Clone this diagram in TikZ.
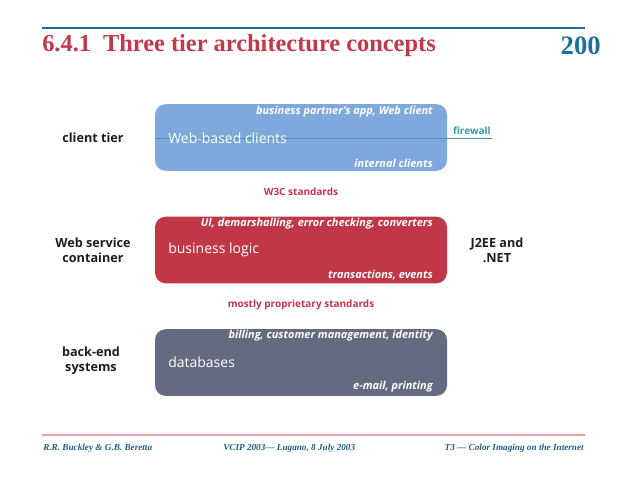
\documentclass[tikz,border=0pt]{standalone}
\usepackage{fontspec}
\setmainfont{Liberation Serif}
\setsansfont{Open Sans}
\usepackage{tikz}

\definecolor{tierblue}{RGB}{127,169,220}
\definecolor{tierred}{RGB}{192,56,72}
\definecolor{tiergray}{RGB}{100,106,128}
\definecolor{titlered}{RGB}{192,57,74}
\definecolor{pageblue}{RGB}{31,110,151}
\definecolor{footblue}{RGB}{31,95,138}
\definecolor{rulepink}{RGB}{230,160,168}
\definecolor{walltea}{RGB}{58,154,174}
\definecolor{labelink}{RGB}{30,30,30}

\tikzset{
  tierbox/.style={rounded corners=8pt, minimum width=219pt, minimum height=50pt, inner sep=0pt},
  tiername/.style={font=\sffamily\bfseries\fontsize{9.5}{11}\selectfont, color=labelink, align=center, inner sep=0.75pt},
  boxname/.style={font=\sffamily\fontsize{10.5}{12}\selectfont, color=white, anchor=west, inner sep=0.75pt},
  boxnote/.style={font=\sffamily\bfseries\itshape\fontsize{8.2}{9}\selectfont, color=white, anchor=east, inner sep=0.75pt},
  stdnote/.style={font=\sffamily\bfseries\fontsize{7.5}{9}\selectfont, color=tierred, inner sep=0.75pt},
  footnote/.style={font=\rmfamily\bfseries\itshape\fontsize{6.9}{8}\selectfont, color=footblue, inner sep=0.75pt}
}

\begin{document}
\begin{tikzpicture}[x=0.75pt,y=0.75pt,yscale=-1,xscale=1]
\useasboundingbox (0,0) rectangle (628,485);

% page head
\draw [color=pageblue, line width=1.1pt] (42,28) -- (585,28);
\node [anchor=west, inner sep=0pt, color=titlered, font=\rmfamily\bfseries\fontsize{18.3}{20}\selectfont] (title) at (42,46) {6.4.1\hspace{9pt}Three tier architecture concepts};
\node [anchor=east, inner sep=0pt, color=pageblue, font=\rmfamily\bfseries\fontsize{20}{22}\selectfont] (pagenum) at (601,46) {200};

% tiers
\node [tierbox, fill=tierblue] (client) at (301,137.5) {};
\node [tierbox, fill=tierred] (logic) at (301,250) {};
\node [tierbox, fill=tiergray] (data) at (301,362.5) {};

% firewall
\coordinate (wallend) at (492,138);
\draw [color=walltea, line width=0.6pt] (client.west |- wallend) -- (wallend);
\node [anchor=south east, inner sep=0.75pt, color=walltea, font=\sffamily\bfseries\fontsize{7.5}{9}\selectfont] (firewall) at (492,136) {firewall};

\node [boxname] (clientname) at (167,138) {Web-based clients};
\node [boxname] (logicname) at (167,250) {business logic};
\node [boxname] (dataname) at (167,362) {databases};

\node [boxnote] (clienttop) at (434,112) {business partner’s app, Web client};
\node [boxnote] (clientbot) at (434,163) {internal clients};
\node [boxnote] (logictop) at (434,224) {UI, demarshalling, error checking, converters};
\node [boxnote] (logicbot) at (434,275) {transactions, events};
\node [boxnote] (datatop) at (434,336) {billing, customer management, identity};
\node [boxnote] (databot) at (434,387) {e-mail, printing};

% left and right labels
\node [tiername] (clienttier) at (93,138) {client tier};
\node [tiername] (wstier) at (93,250) {Web service\\container};
\node [tiername] (betier) at (91,361) {back-end\\systems};
\node [tiername] (j2ee) at (497,250) {J2EE and\\.NET};

\node [stdnote] (w3c) at (301,192) {W3C standards};
\node [stdnote] (propr) at (301,305) {mostly proprietary standards};

% page foot
\draw [color=rulepink, line width=0.8pt] (42,435) -- (585,435);
\node [footnote, anchor=west] (footleft) at (42,448) {R.R. Buckley \& G.B. Beretta};
\node [footnote, anchor=west] (footmid) at (222,448) {VCIP 2003— Lugano, 8 July 2003};
\node [footnote, anchor=east] (footright) at (585,448) {T3 — Color Imaging on the Internet};

\end{tikzpicture}
\end{document}
